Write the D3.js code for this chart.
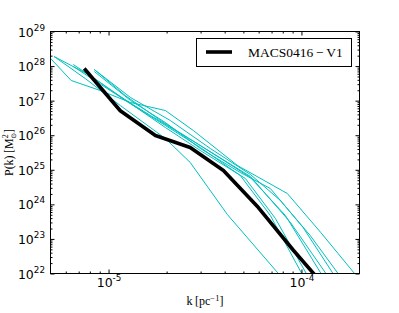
<!DOCTYPE html>
<html>
<head>
<meta charset="utf-8">
<script src="https://cdn.jsdelivr.net/npm/d3@7/dist/d3.min.js"></script>
<style>
    body { margin: 0; background: #fff; }
    svg { display: block; }
</style>
</head>
<body>
<div id="stage"></div>
<script>
// observed spectrum (thick black line)
var obs_k = [7.48e-6, 1.15e-5, 1.75e-5, 2.65e-5, 3.94e-5, 5.98e-5, 9.08e-5, 1.38e-4];
var obs_p = [8.5e27, 5.1e26, 9.8e25, 4.4e25, 9.5e24, 8.1e23, 4.7e22, 3.2e21];

// the eight cyan runs
var run1_k = [4.43e-6, 6.40e-6, 9.06e-6, 1.30e-5, 1.97e-5, 2.75e-5, 4.66e-5, 8.45e-5, 1.26e-4, 1.98e-4];
var run1_p = [3.44e28, 3.83e27, 1.96e27, 8.83e26, 5.18e26, 1.37e26, 1.33e25, 2.06e24, 1.53e23, 7.16e21];
var run2_k = [5.22e-6, 7.57e-6, 1.15e-5, 1.97e-5, 2.65e-5, 4.13e-5, 8.77e-5];
var run2_p = [1.89e28, 4.37e27, 7.23e26, 8.03e25, 1.63e25, 5.08e23, 3.94e21];
var run3_k = [5.22e-6, 8.04e-6, 1.22e-5, 1.97e-5, 2.99e-5, 4.82e-5, 6.90e-5, 1.05e-4];
var run3_p = [1.89e28, 5.33e27, 1.01e27, 1.91e26, 4.41e25, 6.84e24, 4.76e23, 6.27e21];
var run4_k = [6.56e-6, 9.06e-6, 1.30e-5, 1.97e-5, 2.99e-5, 5.12e-5, 7.33e-5, 1.11e-4];
var run4_p = [1.11e28, 3.35e27, 8.26e26, 1.67e26, 3.61e25, 5.60e24, 3.90e23, 6.27e21];
var run5_k = [8.43e-6, 1.22e-5, 1.86e-5, 2.99e-5, 5.44e-5, 8.26e-5, 1.33e-4];
var run5_p = [7.96e27, 1.41e27, 2.66e26, 5.04e25, 5.98e24, 4.76e23, 6.27e21];
var run6_k = [8.43e-6, 1.30e-5, 1.97e-5, 2.99e-5, 4.82e-5, 6.90e-5, 1.02e-4, 1.60e-4];
var run6_p = [6.97e27, 1.01e27, 2.33e26, 4.13e25, 8.34e24, 2.87e24, 2.14e23, 4.50e21];
var run7_k = [6.56e-6, 1.02e-5, 1.65e-5, 2.82e-5, 5.44e-5, 8.77e-5, 1.42e-4];
var run7_p = [9.7e27, 1.96e27, 3.72e26, 6.15e25, 6.40e24, 2.99e23, 6.27e21];
var run8_k = [8.43e-6, 1.30e-5, 2.09e-5, 3.37e-5, 5.44e-5, 7.78e-5, 1.11e-4, 1.69e-4];
var run8_p = [7.96e27, 1.23e27, 2.66e26, 4.13e25, 7.30e24, 1.29e24, 1.26e23, 5.13e21];

// axis ticks
var x_major = [1e-5, 1e-4];
var x_major_exp = ['-5', '-4'];
var y_major_exp = [22, 23, 24, 25, 26, 27, 28, 29];
var legend_label = 'MACS0416\u2009\u2212\u2009V1';

var runs = [
    [run1_k, run1_p], [run2_k, run2_p], [run3_k, run3_p], [run4_k, run4_p],
    [run5_k, run5_p], [run6_k, run6_p], [run7_k, run7_p], [run8_k, run8_p]
];

var fig_w = 399, fig_h = 313;
var plot_l = 50.5, plot_r = 359.5, plot_t = 31.5, plot_b = 273.5;

var svg = d3.select('#stage').append('svg')
    .attr('width', fig_w)
    .attr('height', fig_h);

var x = d3.scaleLog().domain([5e-6, 2e-4]).range([plot_l, plot_r]);
var y = d3.scaleLog().domain([1e22, 1e29]).range([plot_b, plot_t]);

svg.append('clipPath').attr('id', 'plot_clip')
    .append('rect')
    .attr('x', plot_l).attr('y', plot_t)
    .attr('width', plot_r - plot_l).attr('height', plot_b - plot_t);

var line = d3.line()
    .x(function (d) { return x(d[0]); })
    .y(function (d) { return y(d[1]); });

function zip(ks, ps) {
    return ks.map(function (k, i) { return [k, ps[i]]; });
}

var plot = svg.append('g').attr('clip-path', 'url(#plot_clip)');

plot.selectAll('path.run')
    .data(runs)
    .enter()
    .append('path')
    .attr('class', 'run')
    .attr('d', function (d) { return line(zip(d[0], d[1])); })
    .attr('fill', 'none')
    .attr('stroke', '#00bfbf')
    .attr('stroke-width', 1);

plot.append('path')
    .attr('d', line(zip(obs_k, obs_p)))
    .attr('fill', 'none')
    .attr('stroke', '#000')
    .attr('stroke-width', 3.6)
    .attr('stroke-linejoin', 'round');

// minor tick positions
var x_minor = [];
[-6, -5, -4].forEach(function (e) {
    for (var m = 2; m <= 9; m++) {
        var v = m * Math.pow(10, e);
        if (v > 5e-6 && v < 2e-4) x_minor.push(v);
    }
});
var y_major = y_major_exp.map(function (e) { return Math.pow(10, e); });
var y_minor = [];
y_major_exp.slice(0, -1).forEach(function (e) {
    for (var m = 2; m <= 9; m++) y_minor.push(m * Math.pow(10, e));
});

function draw_axis(axis, tx, ty) {
    var g = svg.append('g')
        .attr('transform', 'translate(' + tx + ',' + ty + ')')
        .call(axis.tickSizeOuter(0));
    g.select('.domain').remove();
    g.selectAll('.tick line').attr('stroke', '#000');
    return g;
}

// minor ticks on all four sides
draw_axis(d3.axisBottom(x).tickValues(x_minor).tickSize(-2).tickFormat(''), 0, plot_b);
draw_axis(d3.axisTop(x).tickValues(x_minor).tickSize(-2).tickFormat(''), 0, plot_t);
draw_axis(d3.axisLeft(y).tickValues(y_minor).tickSize(-2).tickFormat(''), plot_l, 0);
draw_axis(d3.axisRight(y).tickValues(y_minor).tickSize(-2).tickFormat(''), plot_r, 0);

// major ticks
draw_axis(d3.axisTop(x).tickValues(x_major).tickSize(-4).tickFormat(''), 0, plot_t);
draw_axis(d3.axisRight(y).tickValues(y_major).tickSize(-4).tickFormat(''), plot_r, 0);

var x_axis = draw_axis(d3.axisBottom(x).tickValues(x_major).tickSize(-4).tickFormat(''), 0, plot_b);
x_axis.selectAll('.tick text')
    .attr('dy', null)
    .attr('y', 13.5)
    .attr('text-anchor', 'middle')
    .style('font-family', 'DejaVu Sans')
    .style('font-size', '12.5px')
    .attr('fill', '#000')
    .each(function (d, i) {
        var t = d3.select(this);
        t.append('tspan').text('10');
        t.append('tspan').attr('dy', -6.5).style('font-size', '8.8px').text(x_major_exp[i]);
    });

var y_axis = draw_axis(d3.axisLeft(y).tickValues(y_major).tickSize(-4).tickPadding(5.5).tickFormat(''), plot_l, 0);
y_axis.selectAll('.tick text')
    .attr('dy', null)
    .attr('y', 4.5)
    .attr('text-anchor', 'end')
    .style('font-family', 'DejaVu Sans')
    .style('font-size', '12.5px')
    .attr('fill', '#000')
    .each(function (d, i) {
        var t = d3.select(this);
        t.append('tspan').text('10');
        t.append('tspan').attr('dy', -6).style('font-size', '8.8px').text(y_major_exp[i]);
    });

// frame
svg.append('rect')
    .attr('x', plot_l).attr('y', plot_t)
    .attr('width', plot_r - plot_l).attr('height', plot_b - plot_t)
    .attr('fill', 'none')
    .attr('stroke', '#000')
    .attr('stroke-width', 1);

// axis labels
var x_label = svg.append('text')
    .attr('x', (plot_l + plot_r) / 2)
    .attr('y', 305)
    .attr('text-anchor', 'middle')
    .attr('fill', '#000')
    .style('font-family', 'Liberation Serif')
    .style('font-size', '12px');
x_label.append('tspan').text('k\u2009[pc');
x_label.append('tspan').attr('dy', -4.5).style('font-size', '8.5px').text('\u22121');
x_label.append('tspan').attr('dy', 4.5).text(']');

var y_label = svg.append('text')
    .attr('transform', 'translate(12.5,' + ((plot_t + plot_b) / 2) + ') rotate(-90)')
    .attr('text-anchor', 'middle')
    .attr('fill', '#000')
    .style('font-family', 'Liberation Serif')
    .style('font-size', '12px');
y_label.append('tspan').text('P(k)\u2009[M');
y_label.append('tspan').attr('dy', -4.5).style('font-size', '8px').text('2');
y_label.append('tspan').attr('dx', -4.5).attr('dy', 7.5).style('font-size', '7px').style('font-family', 'DejaVu Sans').text('\u2299');
y_label.append('tspan').attr('dy', -3).text(']');

// legend
var legend = svg.append('g');
legend.append('rect')
    .attr('x', 196.5).attr('y', 38.5)
    .attr('width', 155).attr('height', 28)
    .attr('fill', '#fff')
    .attr('stroke', '#000')
    .attr('stroke-width', 1);
legend.append('line')
    .attr('x1', 206).attr('x2', 232)
    .attr('y1', 52).attr('y2', 52)
    .attr('stroke', '#000')
    .attr('stroke-width', 3.6);
legend.append('text')
    .attr('x', 248).attr('y', 57)
    .attr('fill', '#000')
    .style('font-family', 'Liberation Serif')
    .style('font-size', '13.5px')
    .text(legend_label);
</script>
</body>
</html>
